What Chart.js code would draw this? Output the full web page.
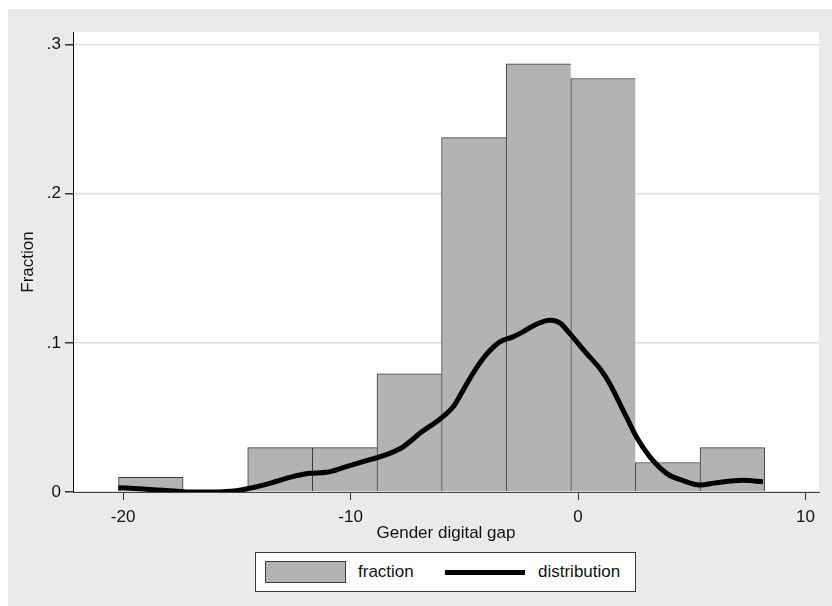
<!DOCTYPE html>
<html>
<head>
<meta charset="utf-8">
<script src="https://cdn.jsdelivr.net/npm/chart.js@4.4.1/dist/chart.umd.min.js"></script>
<style>
  html, body { margin: 0; padding: 0; background: #ffffff; }
  #page { position: relative; width: 832px; height: 606px; overflow: hidden; }
  #backdrop { position: absolute; left: 8px; top: 9px; right: 0; bottom: 0; background: #eaeaea; }
  #chart { position: absolute; left: 0; top: 0; }
  #legend {
    position: absolute; left: 255px; top: 552px; width: 379px; height: 38px;
    background: #ffffff; border: 1px solid #3a3a3a;
    font-family: 'Liberation Sans', Arial, sans-serif; font-size: 17px; color: #111;
  }
  #legend .swatch { position: absolute; left: 9px; top: 8px; width: 79px; height: 20px; background: #b3b3b3; border: 1px solid #3c3c3c; }
  #legend .line { position: absolute; left: 189px; top: 17px; width: 80px; height: 5px; background: #000; }
  #legend .label { position: absolute; top: 9px; line-height: 20px; }
</style>
</head>
<body>
<div id="page">
  <div id="backdrop"></div>
  <canvas id="chart" width="832" height="606"></canvas>
  <div id="legend">
    <div class="swatch"></div><span class="label" style="left:102px">fraction</span>
    <div class="line"></div><span class="label" style="left:282px">distribution</span>
  </div>
</div>
<script>
// histogram bins (centre of each bin) and fraction of observations
const binCenters = [-18.78, -15.94, -13.10, -10.26, -7.42, -4.58, -1.74, 1.10, 3.94, 6.78];
const fractions = [0.0099, 0, 0.0297, 0.0297, 0.0792, 0.2376, 0.2871, 0.2772, 0.0198, 0.0297];

// kernel density curve
const densityX = [-20.2, -19.12, -18.24, -17.36, -16.48, -15.6, -15.02, -14.43, -13.55, -12.67,
  -11.79, -11.06, -10.33, -9.45, -8.28, -7.69, -6.9, -6.08, -5.49, -5.05,
  -4.62, -4.03, -3.44, -2.86, -2.42, -1.83, -1.24, -0.8, -0.37, 0.37,
  0.95, 1.39, 1.83, 2.2, 2.6, 3.15, 3.89, 4.62, 5.35, 6.08, 7.25, 8.13];
const densityY = [0.0029, 0.0020, 0.0011, 0.0002, 0.0, 0.0002, 0.0009, 0.0025, 0.0058, 0.0098,
  0.0125, 0.0132, 0.0163, 0.0203, 0.0259, 0.0303, 0.0400, 0.0488, 0.0571, 0.0683,
  0.0795, 0.0922, 0.1007, 0.1040, 0.1074, 0.1125, 0.1152, 0.1134, 0.1063, 0.0929,
  0.0829, 0.0728, 0.0594, 0.0480, 0.0360, 0.0237, 0.0125, 0.0076, 0.0047, 0.0062, 0.0078, 0.0069];

// axis ticks
const xTicks = [-20, -10, 0, 10];
const yTicks = [0, 0.1, 0.2, 0.3];
const yTickLabels = ['0', '.1', '.2', '.3'];

const font = { family: "'Liberation Sans', Arial, sans-serif", size: 17 };
const textColor = '#111';

// white plot region
const plotBackground = {
  id: 'plotBackground',
  beforeDraw(chart) {
    const { ctx, chartArea } = chart;
    ctx.save();
    ctx.fillStyle = '#ffffff';
    ctx.fillRect(chartArea.left, chartArea.top, chartArea.right - chartArea.left, chartArea.bottom - chartArea.top);
    ctx.restore();
  }
};

new Chart(document.getElementById('chart'), {
  type: 'bar',
  data: {
    datasets: [{
      type: 'line',
      label: 'distribution',
      data: densityX.map((x, i) => ({ x: x, y: densityY[i] })),
      borderColor: '#000000',
      borderWidth: 5,
      pointRadius: 0,
      fill: false,
      cubicInterpolationMode: 'monotone',
      order: 0
    }, {
      type: 'bar',
      label: 'fraction',
      data: binCenters.map((x, i) => ({ x: x, y: fractions[i] })),
      backgroundColor: '#b3b3b3',
      borderColor: '#3c3c3c',
      borderSkipped: false,
      // neighbouring bars share one edge
      borderWidth: c => ({ top: 1, left: 1, bottom: 0, right: fractions[c.dataIndex + 1] > 0 ? 0 : 1 }),
      barPercentage: 1,
      categoryPercentage: 1,
      grouped: false,
      order: 1
    }]
  },
  options: {
    responsive: false,
    animation: false,
    layout: { padding: { left: 0, top: 32, right: 13, bottom: 62 } },
    plugins: { legend: { display: false }, tooltip: { enabled: false } },
    scales: {
      x: {
        type: 'linear',
        min: -22.2,
        max: 10.59,
        offset: false,
        afterBuildTicks: s => { s.ticks = xTicks.map(v => ({ value: v })); },
        afterFit: s => { s.height = 52; },
        grid: { offset: false, drawOnChartArea: false, drawTicks: true, tickLength: 8, tickColor: '#333' },
        border: { color: '#444', width: 1 },
        ticks: { font: font, color: textColor, padding: 7, maxRotation: 0 },
        title: { display: true, text: 'Gender digital gap', font: font, color: textColor, padding: { top: 0, bottom: 0 } }
      },
      y: {
        min: 0,
        max: 0.3084,
        afterBuildTicks: s => { s.ticks = yTicks.map(v => ({ value: v })); },
        afterFit: s => { s.width = 73; },
        grid: { color: '#dddddd', lineWidth: 1.5, drawTicks: true, tickLength: 8, tickColor: '#333' },
        border: { color: '#111', width: 1 },
        ticks: { font: font, color: textColor, padding: 4, callback: (v, i) => yTickLabels[i] },
        title: { display: true, text: 'Fraction', font: font, color: textColor, padding: { top: 18, bottom: 0 } }
      }
    }
  },
  plugins: [plotBackground]
});
</script>
</body>
</html>
